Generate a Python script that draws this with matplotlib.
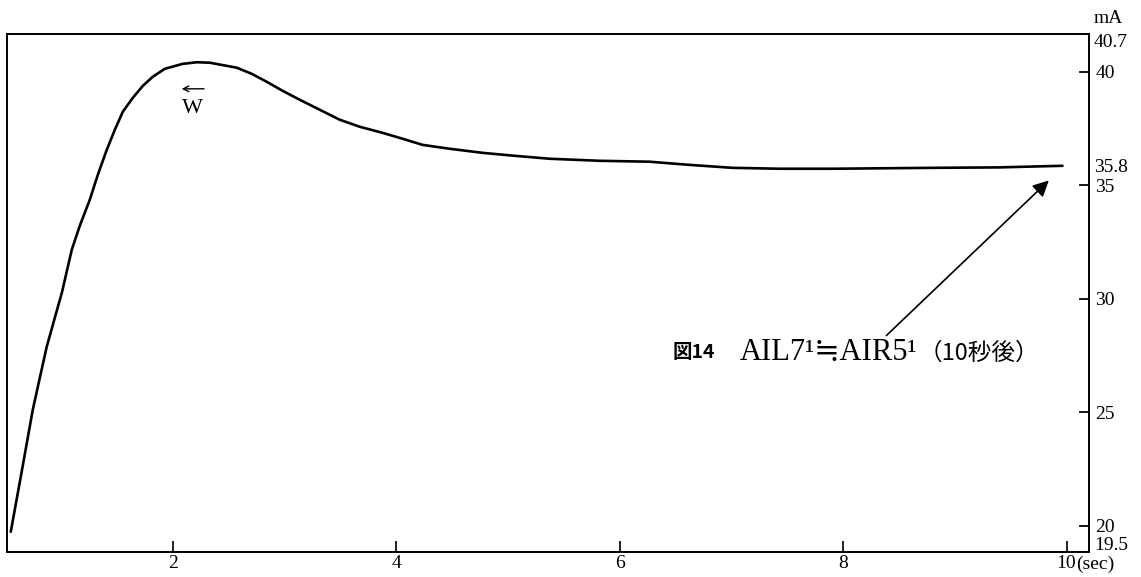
import matplotlib
matplotlib.use('Agg')
import matplotlib.pyplot as plt

# current trace (sec, mA)
t_sec = [0.550, 0.649, 0.747, 0.810, 0.872, 0.944, 1.007, 1.096, 1.168,
         1.257, 1.329, 1.409, 1.481, 1.553, 1.642, 1.732, 1.821, 1.928,
         2.089, 2.215, 2.331, 2.573, 2.707, 2.841, 2.984, 3.136, 3.315,
         3.494, 3.673, 3.879, 4.058, 4.237, 4.479, 4.774, 5.060, 5.374,
         5.821, 6.268, 6.626, 7.011, 7.432, 7.906, 8.801, 9.400, 9.964]
current_mA = [19.74, 22.42, 25.11, 26.52, 27.89, 29.16, 30.26, 32.16, 33.22,
              34.36, 35.46, 36.56, 37.44, 38.24, 38.85, 39.38, 39.78, 40.13,
              40.35, 40.42, 40.40, 40.18, 39.91, 39.56, 39.16, 38.77, 38.33,
              37.89, 37.58, 37.31, 37.05, 36.78, 36.61, 36.43, 36.30, 36.17,
              36.08, 36.04, 35.90, 35.77, 35.73, 35.73, 35.77, 35.79, 35.86]

x_ticks = [2, 4, 6, 8, 10]
x_labels = ['2', '4', '6', '8', '10']
y_ticks = [20, 25, 30, 35, 40]
y_labels = ['20', '25', '30', '35', '40']
y_marks = [(35.8, '35.8')]

serif = ['Liberation Serif', 'DejaVu Serif', 'Noto Sans CJK JP']
plt.rcParams['font.family'] = serif

fig = plt.figure(figsize=(11.41, 5.77), dpi=100)
ax = fig.add_axes([0.006, 0.0433, 0.948, 0.898])
ax.plot(t_sec, current_mA, color='black', lw=1.9,
        solid_capstyle='round', solid_joinstyle='round')

ax.set_xlim(0.515, 10.197)
ax.set_ylim(18.85, 41.67)

for s in ax.spines.values():
    s.set_linewidth(1.4)

ax.set_xticks(x_ticks)
ax.set_xticklabels(x_labels)
ax.tick_params(axis='x', direction='in', length=8, width=1.2,
               labelsize=14, pad=2)
ax.yaxis.tick_right()
ax.set_yticks(y_ticks)
ax.set_yticklabels(y_labels)
ax.tick_params(axis='y', length=0, labelsize=14, pad=5)
# small marks just inside the right spine
for v in y_ticks:
    ax.plot([0.992, 1.0], [v, v], color='black', lw=1.3,
            transform=ax.get_yaxis_transform(), clip_on=False)

for v, lab in y_marks:
    ax.text(1.005, v, lab, transform=ax.get_yaxis_transform(),
            ha='left', va='center', fontsize=14)
ax.text(1.005, 0.983, '40.7', transform=ax.transAxes, ha='left',
        va='center', fontsize=14)
ax.text(1.005, 0.012, '19.5', transform=ax.transAxes, ha='left',
        va='center', fontsize=14)
ax.text(1.005, 1.03, 'mA', transform=ax.transAxes, ha='left',
        va='center', fontsize=14)
ax.text(10.085, -0.024, '(sec)', transform=ax.get_xaxis_transform(),
        ha='left', va='center', fontsize=14)

# W marker
ax.annotate('', xy=(2.08, 39.25), xytext=(2.28, 39.25),
            arrowprops=dict(arrowstyle='->', color='black', lw=1.0,
                            mutation_scale=10, shrinkA=0, shrinkB=0))
ax.text(2.18, 38.4, 'W', ha='center', va='center', fontsize=16)

# annotation
ax.annotate('', xy=(9.86, 35.3), xytext=(8.37, 28.3),
            arrowprops=dict(arrowstyle='-|>', color='black', lw=1.2,
                            mutation_scale=24))
ax.text(6.474, 27.62, '図14', ha='left', va='center', fontsize=14,
        fontweight='bold', family=['Noto Sans CJK JP'])
ax.text(7.074, 27.62, 'AIL7\u00b9\u2252AIR5\u00b9', ha='left', va='center',
        fontsize=22, family=serif)
ax.text(8.68, 27.62, '（10秒後）', ha='left', va='center', fontsize=17,
        family=['Noto Sans CJK JP'])

fig.savefig('out.png', dpi=100)
